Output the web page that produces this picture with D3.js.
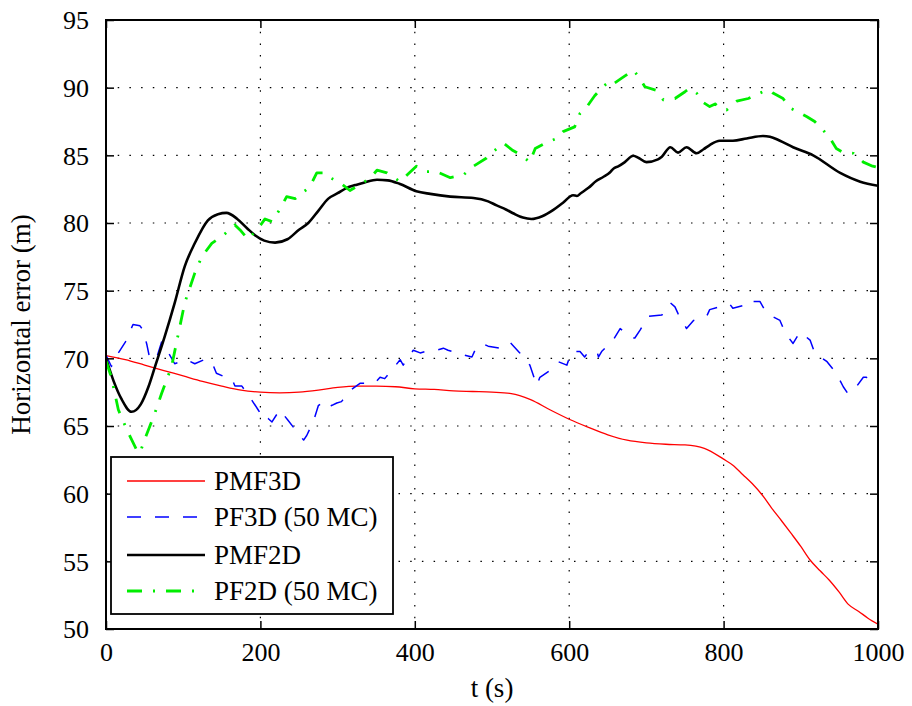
<!DOCTYPE html>
<html>
<head>
<meta charset="utf-8">
<script src="https://cdn.jsdelivr.net/npm/d3@7"></script>
<style>
  body { margin: 0; background: #fff; }
</style>
</head>
<body>
<script>
// values, t in seconds, error in metres

var pmf3dT = [0,25,50,75,100,125,150,175,200,225,250,275,300,325,350,375,400,425,450,475,500,525,550,575,600,625,650,675,700,725,750,775,800,812,825,837,850,862,875,887,900,912,925,937,950,962,975,987,1000];
var pmf3dV = [70.2,69.9,69.5,69.1,68.7,68.3,67.95,67.65,67.5,67.45,67.5,67.65,67.85,67.95,67.95,67.9,67.75,67.7,67.6,67.55,67.5,67.4,66.95,66.2,65.5,64.9,64.35,63.95,63.75,63.65,63.6,63.35,62.55,62.1,61.4,60.75,59.9,58.95,58.0,57.1,56.1,55.1,54.3,53.6,52.7,51.8,51.3,50.8,50.35];

var pf3dT = [0,7,16,25,35,44,48,53,57,66,72,79,89,104,115,127,137,143,155,163,167,176,189,197,206,210,215,225,236,249,256,260,269,275,284,292,299,305,318,329,348,355,361,374,381,385,398,407,413,428,437,443,463,474,478,487,495,510,515,523,536,549,558,562,575,586,597,603,614,620,625,636,638,642,657,666,681,685,692,702,720,731,737,741,752,761,778,782,800,808,812,825,830,836,847,856,873,880,890,899,912,918,934,946,955,961,968,981,985,993,1000];
var pf3dV = [70.25,69.4,70.4,71.2,72.5,72.4,72.1,71.0,69.9,70.1,71.2,70.6,69.6,69.9,69.6,69.9,69.75,68.9,68.6,68.5,67.95,67.95,66.9,66.2,65.4,65.55,65.3,66.2,65.4,64.45,63.96,64.3,65.4,66.5,66.9,66.5,66.7,66.8,67.7,68.15,68.15,68.6,68.5,69.4,69.9,69.5,70.6,70.4,70.5,70.6,70.75,70.6,70.25,70.1,70.6,71.1,70.9,70.75,70.9,71.2,70.4,69.5,68.0,68.6,69.1,69.75,69.5,70.5,70.5,70.1,70.5,70.5,70.1,70.5,71.35,72.2,71.5,71.5,72.1,73.1,73.2,74.1,73.8,73.3,72.2,72.8,73.1,73.6,73.9,74.0,73.7,73.9,73.8,74.2,74.2,73.3,72.8,71.85,71.1,71.95,71.35,70.4,69.75,68.9,67.9,67.4,67.6,68.6,68.6,68.15,68.0];

var pmf2dT = [0,10,20,33,45,55,63,76,89,102,115,132,145,156,170,183,193,205,219,235,250,262,275,288,300,312,323,335,351,365,380,402,420,446,476,495,506,518,528,540,551,565,579,592,605,610,615,625,635,644,653,657,664,672,683,690,700,715,720,731,741,752,765,774,782,795,812,830,851,860,873,890,916,951,977,1000];
var pmf2dV = [70.0,68.3,67.0,66.05,66.6,67.9,69.3,71.6,74.1,76.8,78.5,80.2,80.65,80.75,80.3,79.6,79.1,78.7,78.55,78.8,79.5,80.0,80.9,81.8,82.2,82.6,82.8,83.0,83.2,83.15,82.9,82.35,82.15,81.95,81.85,81.6,81.3,81.0,80.7,80.4,80.3,80.5,80.95,81.5,82.05,82.0,82.2,82.6,83.1,83.4,83.75,84.0,84.2,84.5,84.97,84.8,84.5,84.7,84.9,85.6,85.2,85.6,85.15,85.45,85.76,86.08,86.08,86.25,86.43,86.38,86.08,85.6,85.0,83.7,83.05,82.75];

var pf2dT = [0,7,16,28,40,44,50,63,72,85,94,102,115,124,137,152,167,175,184,197,206,215,225,234,245,253,262,266,273,284,292,305,316,325,342,351,364,381,402,415,428,446,463,476,493,502,515,526,538,549,556,569,584,592,607,614,623,633,644,651,655,668,683,690,698,713,722,737,750,756,765,771,782,789,795,804,817,832,851,860,864,877,886,897,908,918,927,938,946,955,968,981,993,1000];
var pf2dV = [69.8,68.6,66.2,64.6,63.2,63.0,64.0,65.9,67.4,69.4,71.9,74.1,76.3,77.5,78.5,79.1,79.85,79.4,78.8,79.6,80.3,80.1,81.0,81.95,81.8,82.2,82.55,82.9,83.7,83.7,83.3,82.9,82.4,82.7,83.3,83.9,83.7,83.05,84.2,83.8,83.8,83.35,83.55,84.2,84.8,85.3,85.9,85.4,85.0,84.5,85.5,85.9,86.25,86.75,87.1,88.1,88.6,89.4,90.1,90.4,90.2,90.7,91.3,90.8,90.07,89.8,89.1,89.2,89.7,89.95,89.6,89.0,88.6,88.8,88.5,88.35,89.0,89.2,89.7,89.8,89.6,89.2,88.5,88.2,87.85,87.5,87.0,86.25,85.5,85.2,85.15,84.5,84.2,84.1];

var xTicks = [0, 200, 400, 600, 800, 1000];
var yTicks = [50, 55, 60, 65, 70, 75, 80, 85, 90, 95];

var series = [
  { name: "PMF3D",        t: pmf3dT, v: pmf3dV, color: "#ff0000", width: 1.3, dash: null,          smooth: true },
  { name: "PF3D (50 MC)", t: pf3dT,  v: pf3dV,  color: "#0000ff", width: 1.5, dash: "14,14",       smooth: false },
  { name: "PMF2D",        t: pmf2dT, v: pmf2dV, color: "#000000", width: 2.6, dash: null,          smooth: true },
  { name: "PF2D (50 MC)", t: pf2dT,  v: pf2dV,  color: "#00ee00", width: 2.8, dash: "15,11,2,11",  smooth: false }
];

var FONT = "'Liberation Serif'";
var FS = "26px";
var FS_LABEL = "27px";

var W = 912, H = 706;
var margin = { top: 20, right: 34, bottom: 77, left: 106 };
var iw = W - margin.left - margin.right,
    ih = H - margin.top - margin.bottom;

var svg = d3.select("body").append("svg")
    .attr("width", W)
    .attr("height", H);

var g = svg.append("g")
    .attr("transform", "translate(" + margin.left + "," + margin.top + ")");

var x = d3.scaleLinear().domain([0, 1000]).range([0, iw]);
var y = d3.scaleLinear().domain([50, 95]).range([ih, 0]);

// dotted grid
g.append("g").selectAll("line").data(xTicks.slice(1, -1)).enter().append("line")
    .attr("x1", function(d) { return x(d); }).attr("x2", function(d) { return x(d); })
    .attr("y1", 0).attr("y2", ih)
    .attr("stroke", "#000").attr("stroke-width", 1.2)
    .attr("stroke-dasharray", "1.5,10.2");
g.append("g").selectAll("line").data(yTicks.slice(1, -1)).enter().append("line")
    .attr("y1", function(d) { return y(d); }).attr("y2", function(d) { return y(d); })
    .attr("x1", 0).attr("x2", iw)
    .attr("stroke", "#000").attr("stroke-width", 1.2)
    .attr("stroke-dasharray", "1.5,10.2");

// curves
g.append("clipPath").attr("id", "clip")
  .append("rect").attr("width", iw).attr("height", ih);

series.forEach(function(s) {
  var pts = s.t.map(function(t, i) { return [t, s.v[i]]; });
  var line = d3.line()
      .x(function(d) { return x(d[0]); })
      .y(function(d) { return y(d[1]); })
      .curve(s.smooth ? d3.curveMonotoneX : d3.curveLinear);
  g.append("path")
      .datum(pts)
      .attr("clip-path", "url(#clip)")
      .attr("fill", "none")
      .attr("stroke", s.color)
      .attr("stroke-width", s.width)
      .attr("stroke-linejoin", "round")
      .attr("stroke-dasharray", s.dash)
      .attr("d", line);
});

// axes, matlab style: ticks inside on all four sides
var tickLen = 8;
var axBottom = g.append("g").attr("transform", "translate(0," + ih + ")")
    .call(d3.axisBottom(x).tickValues(xTicks).tickFormat(d3.format("d"))
      .tickSizeInner(-tickLen).tickSizeOuter(0).tickPadding(14));
var axTop = g.append("g")
    .call(d3.axisTop(x).tickValues(xTicks).tickSizeInner(-tickLen).tickSizeOuter(0).tickFormat(""));
var axLeft = g.append("g")
    .call(d3.axisLeft(y).tickValues(yTicks).tickFormat(d3.format("d"))
      .tickSizeInner(-tickLen).tickSizeOuter(0).tickPadding(17));
var axRight = g.append("g").attr("transform", "translate(" + iw + ",0)")
    .call(d3.axisRight(y).tickValues(yTicks).tickSizeInner(-tickLen).tickSizeOuter(0).tickFormat(""));

[axBottom, axTop, axLeft, axRight].forEach(function(a) {
  a.attr("font-family", null);
  a.select(".domain").remove();
  a.selectAll(".tick line").attr("stroke", "#000").attr("stroke-width", 1.5);
  a.selectAll("text")
      .style("font-family", FONT)
      .style("font-size", FS)
      .attr("fill", "#000");
});
axBottom.selectAll("text").attr("dy", "0.71em");
axLeft.selectAll("text").attr("dy", "0.34em");

// plot box
g.append("rect")
    .attr("width", iw).attr("height", ih)
    .attr("fill", "none").attr("stroke", "#000").attr("stroke-width", 2);

// axis titles
svg.append("text")
    .attr("x", margin.left + iw / 2).attr("y", 697)
    .attr("text-anchor", "middle")
    .style("font-family", FONT).style("font-size", FS_LABEL)
    .text("t (s)");
svg.append("text")
    .attr("transform", "translate(30," + (margin.top + ih / 2) + ") rotate(-90)")
    .attr("text-anchor", "middle")
    .style("font-family", FONT).style("font-size", FS_LABEL)
    .text("Horizontal error (m)");

// legend
var leg = svg.append("g").attr("transform", "translate(111,457)");
leg.append("rect")
    .attr("width", 282).attr("height", 157)
    .attr("fill", "#fff").attr("stroke", "#000").attr("stroke-width", 1.8);
var rowY = [24, 60, 98, 134];
series.forEach(function(s, i) {
  leg.append("line")
      .attr("x1", 16).attr("x2", 94)
      .attr("y1", rowY[i]).attr("y2", rowY[i])
      .attr("stroke", s.color)
      .attr("stroke-width", s.width)
      .attr("stroke-dasharray", s.dash);
  leg.append("text")
      .attr("x", 103).attr("y", rowY[i] + 9)
      .style("font-family", FONT).style("font-size", FS_LABEL)
      .text(s.name);
});
</script>
</body>
</html>
